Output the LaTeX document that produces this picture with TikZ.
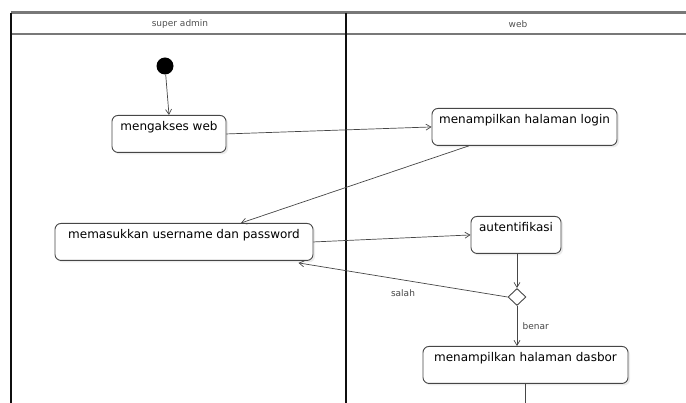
\documentclass[tikz,border=0pt]{standalone}
\usepackage{fontspec}
\setmainfont{DejaVu Sans}
\usetikzlibrary{arrows.meta,shapes.geometric,shadows,calc}

\definecolor{actLine}{RGB}{70,70,70}
\definecolor{laneLine}{RGB}{15,15,15}
\definecolor{headLine}{RGB}{120,120,120}
\definecolor{headText}{RGB}{80,80,80}

\begin{document}
\begin{tikzpicture}[x=1pt, y=-1pt,
  act/.style={draw=actLine, line width=0.9pt, rounded corners=6pt, fill=white,
    font=\fontsize{12}{14}\selectfont, inner xsep=3pt, inner ysep=3pt,
    text height=12pt, text depth=19pt,
    drop shadow={shadow xshift=2pt, shadow yshift=-2pt, opacity=0.15}},
  flow/.style={draw=actLine, line width=0.7pt, -{Straight Barb[length=5pt,width=6pt]}},
  guard/.style={font=\fontsize{9}{11}\selectfont, text=actLine}]
  \useasboundingbox (0,0) rectangle (686,403);
  % swimlanes
  \draw[line width=3pt, draw=headLine] (11,13) -- (686,13);
  \draw[line width=2pt, draw=headLine] (11,34) -- (686,34);
  \draw[line width=1.2pt, draw=laneLine] (11,13) -- (11,403);
  \draw[line width=2pt, draw=laneLine] (346,13) -- (346,403);
  \node[font=\fontsize{9}{11}\selectfont, text=headText] (laneA) at (180,24) {super admin};
  \node[font=\fontsize{9}{11}\selectfont, text=headText] (laneB) at (518,24) {web};
  % activities
  \node[circle, fill=black, minimum size=17pt, inner sep=0pt] (start) at (165,66) {};
  \node[act, minimum width=114pt] (web) at (169,115) [anchor=north] {mengakses web};
  \node[act, minimum width=185pt] (login) at (524.5,108) [anchor=north] {menampilkan halaman login};
  \node[act, minimum width=258pt] (input) at (184,223) [anchor=north] {memasukkan username dan password};
  \node[act, minimum width=90pt] (auth) at (516,216) [anchor=north] {autentifikasi};
  \node[diamond, draw=actLine, line width=0.9pt, fill=white, minimum width=18pt,
    minimum height=17pt, inner sep=0pt] (check) at (517,297) {};
  \node[act, minimum width=205pt] (dash) at (525.5,346) [anchor=north] {menampilkan halaman dasbor};
  \coordinate (cut) at (dash.south |- 0,403);
  % connectors
  \draw[flow] (start) -- (web.north);
  \draw[flow] (web.east) -- (login.west);
  \draw[flow] ($(login.south west)!0.2!(login.south east)$) -- ($(input.north west)!0.72!(input.north east)$);
  \draw[flow] (input.east) -- (auth.west);
  \draw[flow] (auth.south -| check.north) -- (check.north);
  \draw[flow] (check.west) -- node[guard, pos=0.5, below=6pt] {salah} ($(input.south east)+(-15,2)$);
  \draw[flow] (check.south) -- node[guard, right=2pt] {benar} (check.south |- dash.north);
  \draw[draw=actLine, line width=0.7pt] (dash.south) -- (cut);
\end{tikzpicture}
\end{document}
